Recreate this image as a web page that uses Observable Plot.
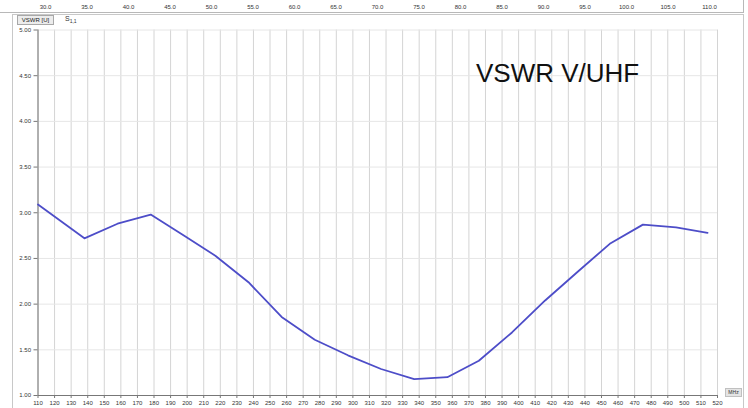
<!DOCTYPE html>
<html>
<head>
<meta charset="utf-8">
<script src="https://cdn.jsdelivr.net/npm/d3@7"></script>
<script src="https://cdn.jsdelivr.net/npm/@observablehq/plot@0.6"></script>
<style>
  html, body { margin: 0; padding: 0; background: #fff; }
  #wrap { position: relative; width: 748px; height: 408px; overflow: hidden; font-family: "Liberation Sans", Arial, sans-serif; }
  .abs { position: absolute; }
  #strip { left: 0; top: 0; width: 743px; height: 12px; border-bottom: 1px solid #b8b8b8; border-right: 1px solid #b8b8b8; }
  #panel { left: 12px; top: 14px; width: 730px; height: 400px; border-left: 1px solid #c8c8c8; border-top: 1px solid #c8c8c8; border-right: 1px solid #c8c8c8; }
  #unit { left: 17px; top: 15px; width: 35px; height: 8px; border: 1px solid #a8a8a8; background: #ececec; font-size: 6px; line-height: 8px; text-align: center; color: #222; }
  #trace { left: 65px; top: 15px; font-size: 7px; color: #333; }
  #trace sub { font-size: 5px; }
  #mhz { left: 725px; top: 388px; width: 15px; height: 7px; background: #e4e4e4; border: 1px solid #c0c0c0; font-size: 5px; line-height: 7px; text-align: center; color: #333; }
  #title { left: 476px; top: 60px; font-size: 26px; line-height: 26px; color: #111; white-space: nowrap; }
</style>
</head>
<body>
<div id="wrap">
  <div id="strip" class="abs"></div>
  <div id="panel" class="abs"></div>
  <div id="main" class="abs" style="left:0;top:0;"></div>
  <div id="topaxis" class="abs" style="left:0;top:0;"></div>
  <div id="unit" class="abs">VSWR [U]</div>
  <div id="trace" class="abs">S<sub>1,1</sub></div>
  <div id="mhz" class="abs">MHz</div>
  <div id="title" class="abs">VSWR V/UHF</div>
</div>
<script>
// Data
const freqMHz = [110, 138, 158, 178, 198, 217, 237, 257, 277, 297, 317, 337, 357, 376, 396, 416, 436, 455, 475, 495, 514];
const vswr    = [3.09, 2.72, 2.88, 2.98, 2.75, 2.53, 2.24, 1.86, 1.61, 1.44, 1.29, 1.18, 1.20, 1.38, 1.69, 2.04, 2.36, 2.66, 2.87, 2.84, 2.78];
const xTicks = [110,120,130,140,150,160,170,180,190,200,210,220,230,240,250,260,270,280,290,300,310,320,330,340,350,360,370,380,390,400,410,420,430,440,450,460,470,480,490,500,510,520];
const yTicks = [1.00, 1.50, 2.00, 2.50, 3.00, 3.50, 4.00, 4.50, 5.00];
const topTicks = [30,35,40,45,50,55,60,65,70,75,80,85,90,95,100,105,110];

const data = freqMHz.map((f, i) => ({f, v: vswr[i]}));

const mainChart = Plot.plot({
  width: 748,
  height: 408,
  marginLeft: 37.5,
  marginRight: 31,
  marginTop: 29.5,
  marginBottom: 13,
  style: {fontSize: "6px", fontFamily: "Liberation Sans, Arial, sans-serif", color: "#333", background: "transparent", overflow: "visible"},
  x: {domain: [110, 520]},
  y: {domain: [1, 5]},
  marks: [
    Plot.gridX(xTicks, {stroke: "#d4d4d4", strokeOpacity: 1}),
    Plot.gridY(yTicks, {stroke: "#e6e6e6", strokeOpacity: 1}),
    Plot.axisX({ticks: xTicks, tickSize: 3, tickPadding: 2, tickFormat: d => d, label: null, stroke: "#777"}),
    Plot.axisY({ticks: yTicks, tickSize: 4, tickPadding: 3, tickFormat: d => d.toFixed(2), label: null, stroke: "#777"}),
    Plot.ruleX([110], {stroke: "#777"}),
    Plot.ruleY([1], {stroke: "#777"}),
    Plot.line(data, {x: "f", y: "v", stroke: "#4d4dc8", strokeWidth: 1.8})
  ]
});
document.getElementById("main").appendChild(mainChart);

const topChart = Plot.plot({
  width: 748,
  height: 12,
  marginLeft: 45,
  marginRight: 39,
  marginTop: 0,
  marginBottom: 0,
  style: {fontSize: "6px", fontFamily: "Liberation Sans, Arial, sans-serif", color: "#333", background: "transparent", overflow: "visible"},
  x: {domain: [30, 110], axis: null},
  marks: [
    Plot.text(topTicks, {x: d => d, frameAnchor: "middle", dy: 1, text: d => d.toFixed(1), fill: "#333"})
  ]
});
document.getElementById("topaxis").appendChild(topChart);
</script>
</body>
</html>
